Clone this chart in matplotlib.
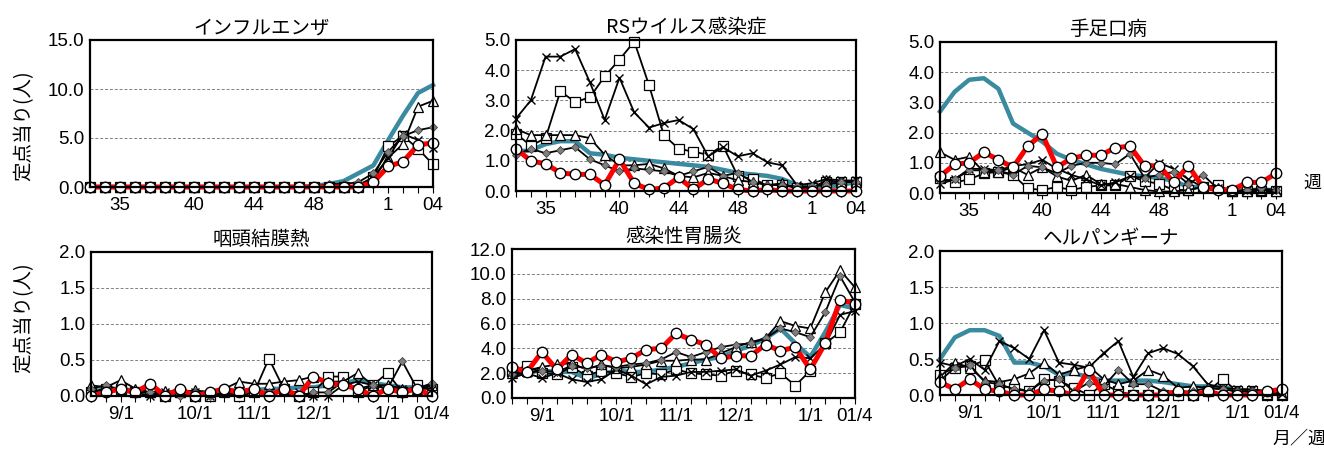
import matplotlib
matplotlib.use("Agg")
import matplotlib.pyplot as plt

plt.rcParams['font.family'] = ['Liberation Sans', 'Noto Sans CJK JP', 'DejaVu Sans']

# x categories: week 33 .. week 4 of next year
weeks = list(range(33, 53)) + [1, 2, 3, 4]
week_labels_top = {2: '35', 7: '40', 11: '44', 15: '48', 20: '1', 23: '04'}
week_labels_bottom = {2: '9/1', 7: '10/1', 11: '11/1', 15: '12/1', 20: '1/1', 23: '01/4'}

titles = ['インフルエンザ', 'RSウイルス感染症', '手足口病', '咽頭結膜熱', '感染性胃腸炎', 'ヘルパンギーナ']
ymax = [15, 5, 5, 2, 12, 2]
ystep = [5, 1, 1, 0.5, 2, 0.5]

# インフルエンザ
flu_avg = [0]*15 + [0.1, 0.3, 0.6, 1.4, 2.2, 4.8, 7.3, 9.6, 10.4]
flu_sq = [0]*19 + [1.0, 4.2, 5.2, 3.9, 2.3]
flu_tri = [0]*18 + [0.2, 1.0, 3.0, 4.4, 8.2, 8.8]
flu_x = [0]*19 + [0.8, 3.0, 5.4, 4.8, 4.0]
flu_dia = [0]*16 + [0.3, 0.3, 0.5, 1.4, 3.6, 5.2, 5.8, 6.1]
flu_now = [0]*19 + [0.5, 2.1, 2.6, 4.3, 4.5]

# RSウイルス感染症
rs_avg = [1.3, 1.35, 1.55, 1.65, 1.65, 1.25, 1.2, 1.1, 1.05, 1.0, 0.95, 0.9,
          0.85, 0.8, 0.7, 0.6, 0.55, 0.5, 0.4, 0.2, 0.1, 0.1, 0.2, 0.3]
rs_sq = [1.9, 1.5, 1.75, 3.3, 2.95, 3.1, 3.8, 4.35, 4.95, 3.5, 1.85, 1.4,
         1.3, 1.2, 1.5, 0.5, 0.4, 0.2, 0.2, 0.1, 0.1, 0.3, 0.3, 0.3]
rs_tri = [2.05, 1.85, 1.85, 1.85, 1.85, 1.75, 1.2, 0.85, 0.85, 0.9, 0.75, 0.5,
          0.45, 0.6, 0.5, 0.35, 0.3, 0.2, 0.25, 0.1, 0.1, 0.35, 0.3, 0.3]
rs_x = [2.4, 3.0, 4.45, 4.45, 4.7, 3.6, 2.35, 3.75, 2.6, 2.1, 2.25, 2.35,
        2.05, 1.15, 1.45, 1.15, 1.25, 0.95, 0.85, 0.2, 0.25, 0.4, 0.35, 0.35]
rs_dia = [1.2, 1.4, 1.25, 1.35, 1.45, 1.05, 0.85, 0.65, 0.75, 0.7, 0.65, 0.5,
          0.65, 0.8, 0.5, 0.6, 0.3, 0.2, 0.2, 0.15, 0.15, 0.2, 0.3, 0.3]
rs_now = [1.4, 1.0, 0.9, 0.6, 0.55, 0.55, 0.2, 1.05, 0.25, 0.05, 0.1, 0.45,
          0.05, 0.4, 0.25, 0.05, 0.0, 0.05, 0.0, 0.0, 0.0, 0.0, 0.0, 0.0]

# 手足口病
hfm_avg = [2.7, 3.35, 3.75, 3.8, 3.45, 2.3, 2.0, 1.7, 1.3, 1.1, 0.95, 0.8,
           0.7, 0.6, 0.55, 0.5, 0.4, 0.2, 0.2, 0.15, 0.1, 0.1, 0.1, 0.1]
hfm_sq = [0.5, 0.35, 0.45, 0.65, 0.7, 0.6, 0.15, 0.1, 0.2, 0.1, 0.2, 0.25,
          0.25, 0.55, 0.4, 0.3, 0.1, 0.1, 0.2, 0.25, 0.05, 0.05, 0.05, 0.05]
hfm_tri = [1.35, 1.1, 1.2, 0.7, 0.7, 0.85, 0.6, 0.85, 0.55, 0.4, 0.6, 0.3,
           0.3, 0.2, 0.1, 0.05, 0.05, 0.1, 0.2, 0.15, 0.05, 0.05, 0.1, 0.05]
hfm_x = [0.3, 0.45, 0.8, 0.8, 0.75, 0.9, 0.95, 1.1, 0.8, 0.6, 0.45, 0.25,
         0.35, 0.55, 0.5, 1.0, 0.8, 0.45, 0.2, 0.15, 0.05, 0.1, 0.1, 0.1]
hfm_dia = [0.4, 0.45, 0.75, 0.75, 0.75, 0.6, 0.9, 0.85, 0.65, 0.9, 1.0, 1.0,
           0.95, 1.3, 0.5, 0.6, 0.7, 0.3, 0.6, 0.15, 0.05, 0.1, 0.15, 0.1]
hfm_now = [0.55, 0.95, 1.0, 1.35, 1.1, 0.85, 1.55, 1.95, 0.85, 1.15, 1.25, 1.25,
           1.5, 1.55, 0.9, 0.9, 0.35, 0.9, 0.2, 0.1, 0.1, 0.35, 0.35, 0.65]

# 咽頭結膜熱
pcf_avg = [0.05, 0.1, 0.1, 0.07, 0.07, 0.05, 0.05, 0.05, 0.05, 0.07, 0.08, 0.08,
           0.1, 0.1, 0.12, 0.12, 0.15, 0.18, 0.22, 0.18, 0.15, 0.12, 0.12, 0.13]
pcf_sq = [0.05, 0.1, 0.1, 0.05, 0.05, 0.0, 0.05, 0.0, 0.0, 0.05, 0.0, 0.05,
          0.52, 0.1, 0.0, 0.05, 0.27, 0.27, 0.05, 0.15, 0.32, 0.05, 0.15, 0.1]
pcf_tri = [0.15, 0.12, 0.22, 0.1, 0.05, 0.07, 0.05, 0.08, 0.05, 0.1, 0.2, 0.17,
           0.17, 0.2, 0.22, 0.27, 0.2, 0.2, 0.32, 0.15, 0.15, 0.1, 0.1, 0.15]
pcf_x = [0.05, 0.1, 0.05, 0.05, 0.0, 0.05, 0.05, 0.05, 0.0, 0.05, 0.05, 0.05,
         0.05, 0.05, 0.05, 0.0, 0.0, 0.15, 0.2, 0.15, 0.1, 0.1, 0.1, 0.1]
pcf_dia = [0.1, 0.15, 0.08, 0.05, 0.05, 0.0, 0.0, 0.05, 0.0, 0.05, 0.05, 0.05,
           0.05, 0.05, 0.0, 0.05, 0.05, 0.2, 0.1, 0.15, 0.1, 0.48, 0.1, 0.18]
pcf_now = [0.0, 0.05, 0.1, 0.05, 0.17, 0.0, 0.1, 0.0, 0.05, 0.1, 0.05, 0.1,
           0.0, 0.1, 0.0, 0.27, 0.18, 0.15, 0.1, 0.0, 0.1, 0.05, 0.1, 0.0]

# 感染性胃腸炎
ige_avg = [1.8, 2.1, 2.2, 2.1, 2.1, 1.6, 1.9, 2.2, 2.1, 2.1, 2.3, 2.5,
           2.8, 3.1, 3.3, 3.8, 4.2, 4.8, 5.6, 4.4, 3.3, 5.3, 7.5, 7.2]
ige_sq = [2.2, 2.6, 2.0, 1.9, 2.5, 1.8, 2.2, 2.0, 1.7, 2.0, 1.9, 2.3,
          2.0, 1.9, 1.8, 2.2, 1.9, 1.6, 2.0, 1.0, 2.2, 4.4, 5.3, 7.6]
ige_tri = [2.0, 2.2, 2.5, 2.7, 2.8, 2.3, 2.7, 2.4, 2.5, 2.7, 3.0, 3.0,
           3.1, 3.1, 3.6, 4.1, 4.5, 4.8, 6.2, 5.8, 5.6, 8.5, 10.3, 8.9]
ige_x = [1.6, 2.0, 1.6, 2.0, 1.5, 1.3, 1.5, 2.3, 1.8, 1.1, 1.7, 1.8,
         2.1, 2.1, 2.2, 2.3, 1.8, 2.2, 2.7, 3.3, 3.2, 4.3, 6.7, 7.0]
ige_dia = [1.9, 2.0, 2.2, 2.1, 2.6, 2.4, 2.6, 2.5, 2.7, 2.8, 3.1, 3.7,
           3.3, 3.7, 4.1, 4.3, 4.4, 4.8, 5.6, 5.3, 4.9, 6.9, 9.8, 7.7]
ige_now = [2.5, 2.1, 3.7, 2.3, 3.5, 2.8, 3.5, 2.9, 3.2, 3.9, 4.0, 5.2,
           4.7, 4.3, 3.2, 3.4, 3.4, 4.3, 3.8, 4.1, 2.3, 4.4, 7.9, 7.6]

# ヘルパンギーナ
her_avg = [0.5, 0.8, 0.9, 0.9, 0.82, 0.45, 0.45, 0.4, 0.28, 0.3, 0.25, 0.2,
           0.2, 0.2, 0.2, 0.18, 0.15, 0.12, 0.12, 0.1, 0.08, 0.05, 0.05, 0.05]
her_sq = [0.28, 0.38, 0.4, 0.48, 0.12, 0.1, 0.05, 0.22, 0.2, 0.1, 0.0, 0.15,
          0.05, 0.0, 0.0, 0.0, 0.0, 0.0, 0.05, 0.22, 0.05, 0.05, 0.0, 0.0]
her_tri = [0.25, 0.45, 0.38, 0.2, 0.18, 0.22, 0.3, 0.45, 0.28, 0.35, 0.4, 0.22,
           0.15, 0.2, 0.35, 0.27, 0.1, 0.12, 0.1, 0.08, 0.05, 0.05, 0.02, 0.02]
her_x = [0.45, 0.4, 0.5, 0.35, 0.75, 0.65, 0.5, 0.9, 0.45, 0.42, 0.38, 0.58,
         0.75, 0.25, 0.58, 0.65, 0.57, 0.4, 0.15, 0.1, 0.08, 0.08, 0.05, 0.02]
her_dia = [0.2, 0.38, 0.42, 0.18, 0.15, 0.08, 0.05, 0.2, 0.22, 0.05, 0.17, 0.12,
           0.35, 0.15, 0.15, 0.05, 0.05, 0.05, 0.1, 0.08, 0.05, 0.05, 0.05, 0.05]
her_now = [0.18, 0.08, 0.22, 0.08, 0.05, 0.0, 0.0, 0.08, 0.05, 0.0, 0.35, 0.0,
           0.0, 0.0, 0.0, 0.0, 0.05, 0.0, 0.05, 0.0, 0.0, 0.0, 0.05, 0.08]

panels = [
    (flu_avg, flu_sq, flu_tri, flu_x, flu_dia, flu_now),
    (rs_avg, rs_sq, rs_tri, rs_x, rs_dia, rs_now),
    (hfm_avg, hfm_sq, hfm_tri, hfm_x, hfm_dia, hfm_now),
    (pcf_avg, pcf_sq, pcf_tri, pcf_x, pcf_dia, pcf_now),
    (ige_avg, ige_sq, ige_tri, ige_x, ige_dia, ige_now),
    (her_avg, her_sq, her_tri, her_x, her_dia, her_now),
]

# axes boxes in pixels (left, top, right, bottom)
boxes = [(90, 40, 433, 187), (516, 40, 856, 191), (940, 42, 1276, 193),
         (91, 252, 432, 396), (512, 249, 855, 398), (940, 251, 1282, 395)]

W, H = 1324, 450
fig = plt.figure(figsize=(W / 100, H / 100), dpi=100)

x = list(range(len(weeks)))
for k in range(6):
    l, t, r, b = boxes[k]
    ax = fig.add_axes([l / W, 1 - b / H, (r - l) / W, (b - t) / H])
    avg, sq, tri, xs, dia, now = panels[k]

    ax.plot(x, avg, color='#3a8ba0', lw=3.2, zorder=2, clip_on=False)
    ax.plot(x, sq, color='black', lw=1.3, marker='s', ms=6.5, mfc='white', mec='black', mew=0.9,
            zorder=3, clip_on=False)
    ax.plot(x, tri, color='black', lw=1.3, marker='^', ms=6.5, mfc='white', mec='black', mew=0.9,
            zorder=3, clip_on=False)
    ax.plot(x, xs, color='black', lw=1.3, marker='x', ms=5.5, mew=1.0, zorder=3, clip_on=False)
    ax.plot(x, dia, color='black', lw=1.3, marker='D', ms=4.5, mfc='#7f7f7f', mec='#404040', mew=0.6,
            zorder=3, clip_on=False)
    ax.plot(x, now, color='#ff0000', lw=3.6, marker='o', ms=7.5, mfc='white', mec='black', mew=1.0,
            zorder=4, clip_on=False)

    ax.set_xlim(0, len(weeks) - 1)
    ax.set_ylim(0, ymax[k])
    yt = []
    v = 0.0
    while v <= ymax[k] + 1e-9:
        yt.append(v)
        v += ystep[k]
    ax.set_yticks(yt)
    ax.set_yticklabels(['%.1f' % v for v in yt], fontsize=13.5)
    ax.tick_params(axis='y', length=0, pad=4)
    for v in yt[1:-1]:
        ax.axhline(v, color='#808080', lw=0.7, ls=(0, (3, 2)), zorder=1)

    labels = week_labels_top if k < 3 else week_labels_bottom
    ax.set_xticks(x)
    ax.set_xticklabels([labels.get(i, '') for i in x], fontsize=13.5)
    ax.tick_params(axis='x', length=4, width=0.8, direction='out', pad=3)

    for s in ax.spines.values():
        s.set_linewidth(1.6)
        s.set_color('black')
        s.set_zorder(5)
    ax.set_title(titles[k], fontsize=14, family=['Noto Sans CJK JP'], pad=5)

fig.text(24 / W, 1 - 126 / H, '定点当り(人)', rotation=90, ha='center', va='center',
         fontsize=14, family=['Noto Sans CJK JP'])
fig.text(24 / W, 1 - 318 / H, '定点当り(人)', rotation=90, ha='center', va='center',
         fontsize=14, family=['Noto Sans CJK JP'])
fig.text(1312 / W, 1 - 183 / H, '週', ha='center', va='center', fontsize=13, family=['Noto Sans CJK JP'])
fig.text(1299 / W, 1 - 438 / H, '月／週', ha='center', va='center', fontsize=13, family=['Noto Sans CJK JP'])

fig.savefig('out.png', dpi=100)
